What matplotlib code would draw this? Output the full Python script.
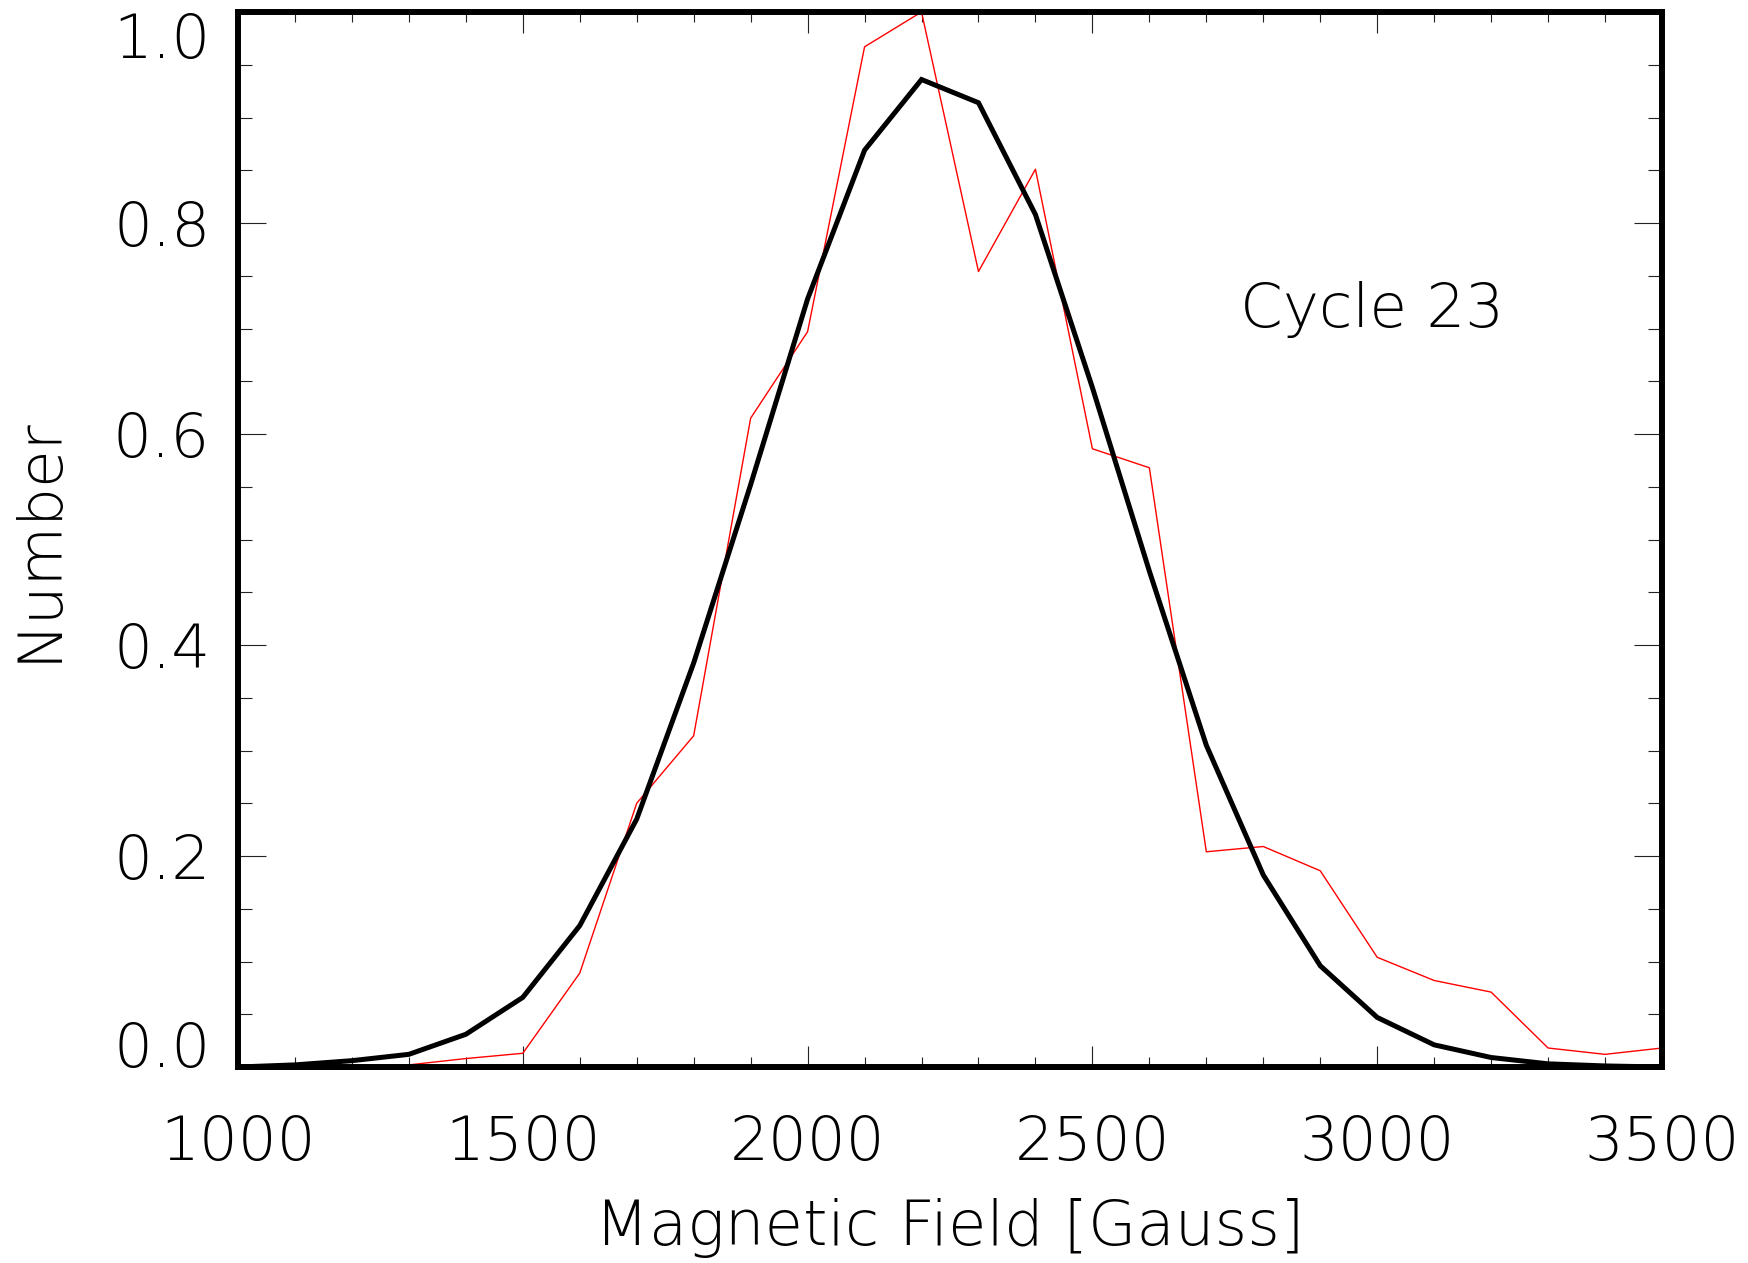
import matplotlib
matplotlib.use('Agg')
import matplotlib.pyplot as plt
from matplotlib import font_manager as fm
from matplotlib.ticker import MultipleLocator

# ---- data ----
field = [1000, 1100, 1200, 1300, 1400, 1500, 1600, 1700, 1800, 1900, 2000,
         2100, 2200, 2300, 2400, 2500, 2600, 2700, 2800, 2900, 3000,
         3100, 3200, 3300, 3400, 3500]
fit_curve = [0.0, 0.002, 0.006, 0.012, 0.031, 0.066, 0.134, 0.235, 0.383, 0.552, 0.728,
             0.869, 0.936, 0.914, 0.808, 0.644, 0.470, 0.305, 0.182, 0.096, 0.047,
             0.021, 0.009, 0.003, 0.001, 0.0]
observed = [0.0, 0.0, 0.0, 0.002, 0.008, 0.013, 0.089, 0.250, 0.314, 0.615, 0.697,
            0.967, 1.0, 0.754, 0.851, 0.586, 0.568, 0.204, 0.209, 0.186, 0.104,
            0.082, 0.071, 0.018, 0.012, 0.018]
xticks = [1000, 1500, 2000, 2500, 3000, 3500]
xtick_labels = ['1000', '1500', '2000', '2500', '3000', '3500']
yticks = [0.0, 0.2, 0.4, 0.6, 0.8, 1.0]
ytick_labels = ['0.0', '0.2', '0.4', '0.6', '0.8', '1.0']
annotation = 'Cycle 23'
xlabel = 'Magnetic Field [Gauss]'
ylabel = 'Number'


def _w(f):
    w = f.weight
    if isinstance(w, str):
        w = fm.weight_dict.get(w, 400)
    return w


def pick_font():
    prefs = ['DejaVu Sans', 'Roboto', 'Lato', 'Open Sans', 'Noto Sans', 'Inter']
    for fam in prefs:
        c = [f for f in fm.fontManager.ttflist
             if f.name == fam and f.style == 'normal' and _w(f) <= 300
             and 'ondensed' not in f.fname]
        if c:
            c.sort(key=lambda f: _w(f))
            return fm.FontProperties(fname=c[0].fname)
    return fm.FontProperties(family='DejaVu Sans')


fp = pick_font()
FS = 44

fig = plt.figure(figsize=(17.48, 12.63), dpi=100)
ax = fig.add_axes([238 / 1748, (1263 - 1067) / 1263, 1424 / 1748, 1055 / 1263])

ax.plot(field, observed, color='#ff0000', lw=1.0, clip_on=False, zorder=2)
ax.plot(field, fit_curve, color='black', lw=3.6, clip_on=False, zorder=3,
        solid_joinstyle='miter')

ax.set_xlim(1000, 3500)
ax.set_ylim(0, 1.0)

for s in ax.spines.values():
    s.set_linewidth(4.3)
    s.set_zorder(4)

ax.set_xticks(xticks)
ax.set_xticklabels(xtick_labels)
ax.set_yticks(yticks)
ax.set_yticklabels(ytick_labels)
ax.xaxis.set_minor_locator(MultipleLocator(100))
ax.yaxis.set_minor_locator(MultipleLocator(0.05))

ax.tick_params(axis='both', which='both', direction='in', top=True, right=True,
               width=0.8, color='#222222')
ax.tick_params(axis='x', which='major', length=15, pad=34)
ax.tick_params(axis='x', which='minor', length=7)
ax.tick_params(axis='y', which='major', length=20, pad=20)
ax.tick_params(axis='y', which='minor', length=10)

for lab in ax.get_xticklabels() + ax.get_yticklabels():
    lab.set_fontproperties(fp)
    lab.set_fontsize(FS)

ylabs = ax.get_yticklabels()
ylabs[0].set_va('baseline')
ylabs[-1].set_va('top')

ax.set_xlabel(xlabel, fontproperties=fp, fontsize=FS)
ax.xaxis.label.set_fontsize(45)
ax.xaxis.set_label_coords(0.5, (1067 - 1245) / 1055)
ax.xaxis.label.set_va('baseline')

ax.set_ylabel(ylabel, fontproperties=fp, fontsize=FS)
ax.yaxis.label.set_fontsize(FS)
ax.yaxis.set_label_coords((56 - 238) / 1424, 0.5)
ax.yaxis.label.set_va('baseline')

ax.text((1240 - 238) / 1424, (1067 - 327) / 1055, annotation, transform=ax.transAxes,
        fontproperties=fp, fontsize=FS, ha='left', va='baseline')

fig.savefig('out.png', dpi=100)
